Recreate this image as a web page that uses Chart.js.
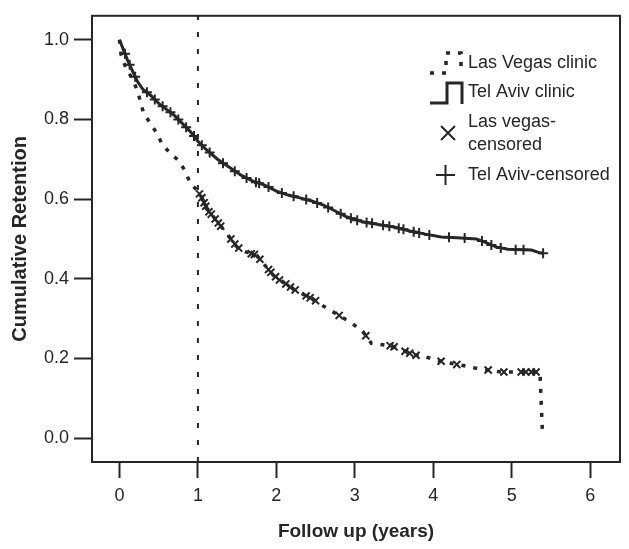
<!DOCTYPE html>
<html>
<head>
<meta charset="utf-8">
<script src="https://cdn.jsdelivr.net/npm/chart.js@4.4.1/dist/chart.umd.min.js"></script>
<style>
  html, body { margin: 0; padding: 0; background: #fff; }
</style>
</head>
<body>
<canvas id="chart" width="629" height="549"></canvas>
<script>
// Kaplan-Meier retention curves
const lvTimes = [0, 0.02, 0.08, 0.17, 0.23, 0.27, 0.31, 0.40, 0.48, 0.55, 0.65, 0.75, 0.84, 0.90, 1.00, 1.06, 1.12, 1.20, 1.30, 1.40, 1.50, 1.60, 1.75, 1.85, 1.96, 2.10, 2.21, 2.35, 2.46, 2.61, 2.78, 2.95, 3.10, 3.21, 3.44, 3.60, 3.73, 3.90, 4.07, 4.28, 4.53, 4.86, 5.36, 5.39];
const lvRetention = [1.00, 0.963, 0.93, 0.90, 0.871, 0.843, 0.814, 0.789, 0.764, 0.735, 0.715, 0.697, 0.67, 0.64, 0.62, 0.60, 0.573, 0.555, 0.53, 0.505, 0.479, 0.468, 0.459, 0.435, 0.409, 0.39, 0.375, 0.36, 0.35, 0.33, 0.31, 0.29, 0.268, 0.238, 0.232, 0.222, 0.21, 0.204, 0.194, 0.186, 0.176, 0.166, 0.166, 0.02];

const taTimes = [0, 0.05, 0.10, 0.17, 0.23, 0.30, 0.40, 0.50, 0.60, 0.70, 0.80, 0.90, 1.00, 1.10, 1.25, 1.40, 1.55, 1.70, 1.85, 2.00, 2.15, 2.30, 2.45, 2.60, 2.75, 2.90, 3.10, 3.30, 3.50, 3.70, 3.90, 4.10, 4.30, 4.55, 4.68, 4.80, 4.95, 5.25, 5.36, 5.40];
const taRetention = [1.00, 0.975, 0.95, 0.92, 0.895, 0.875, 0.86, 0.84, 0.825, 0.81, 0.79, 0.77, 0.745, 0.725, 0.70, 0.68, 0.66, 0.645, 0.635, 0.62, 0.61, 0.603, 0.595, 0.585, 0.57, 0.555, 0.543, 0.536, 0.53, 0.52, 0.512, 0.505, 0.503, 0.50, 0.49, 0.48, 0.474, 0.472, 0.465, 0.464];

// censored observations
const lvCensorTimes = [1.02, 1.05, 1.08, 1.10, 1.14, 1.17, 1.22, 1.26, 1.29, 1.42, 1.47, 1.52, 1.68, 1.72, 1.79, 1.90, 1.93, 1.99, 2.04, 2.12, 2.18, 2.24, 2.38, 2.43, 2.50, 2.80, 3.14, 3.45, 3.50, 3.64, 3.70, 3.78, 4.10, 4.30, 4.70, 4.90, 5.12, 5.18, 5.25, 5.31];
const lvCensorValues = [0.613, 0.603, 0.591, 0.582, 0.568, 0.562, 0.55, 0.54, 0.532, 0.50, 0.487, 0.477, 0.463, 0.461, 0.449, 0.423, 0.416, 0.405, 0.397, 0.387, 0.379, 0.372, 0.357, 0.352, 0.345, 0.308, 0.257, 0.232, 0.229, 0.218, 0.213, 0.208, 0.193, 0.185, 0.171, 0.166, 0.166, 0.166, 0.166, 0.166];

const taCensorTimes = [0.07, 0.13, 0.20, 0.35, 0.45, 0.55, 0.65, 0.75, 0.85, 0.95, 1.05, 1.15, 1.32, 1.47, 1.62, 1.74, 1.78, 1.90, 2.07, 2.22, 2.38, 2.52, 2.66, 2.82, 2.95, 3.03, 3.15, 3.22, 3.36, 3.44, 3.56, 3.62, 3.75, 3.82, 3.95, 4.20, 4.40, 4.62, 4.74, 4.86, 5.05, 5.15, 5.40];
const taCensorValues = [0.965, 0.937, 0.907, 0.868, 0.85, 0.833, 0.818, 0.80, 0.78, 0.758, 0.735, 0.717, 0.69, 0.67, 0.653, 0.642, 0.64, 0.63, 0.615, 0.607, 0.599, 0.59, 0.579, 0.563, 0.552, 0.547, 0.541, 0.539, 0.534, 0.532, 0.527, 0.524, 0.518, 0.515, 0.51, 0.504, 0.502, 0.495, 0.485, 0.477, 0.473, 0.473, 0.464];

const xTicks = [0, 1, 2, 3, 4, 5, 6];
const yTicks = [0, 0.2, 0.4, 0.6, 0.8, 1.0];
const cutoffYear = 1;
const xRange = [-0.35, 6.38];
const yRange = [-0.06, 1.06];

const ink = '#262626';
const fontFamily = "'Liberation Sans', Arial, Helvetica, sans-serif";

const zip = (xs, ys) => xs.map((x, i) => ({ x: x, y: ys[i] }));

// box around the plot + legend sitting inside it
const framePlugin = {
  id: 'frame',
  afterDraw(chart) {
    const { ctx, chartArea: a } = chart;
    ctx.save();
    ctx.strokeStyle = ink;
    ctx.lineWidth = 2;
    ctx.strokeRect(a.left, a.top, a.right - a.left, a.bottom - a.top);

    ctx.fillStyle = ink;
    ctx.font = '18px ' + fontFamily;
    ctx.textBaseline = 'middle';
    ctx.textAlign = 'left';

    // Las Vegas: dotted step
    ctx.lineWidth = 3.5;
    ctx.setLineDash([4, 8]);
    ctx.beginPath();
    ctx.moveTo(430, 73); ctx.lineTo(446, 73); ctx.lineTo(446, 53);
    ctx.lineTo(461, 53); ctx.lineTo(461, 70);
    ctx.stroke();
    ctx.fillText('Las Vegas clinic', 468, 63);

    // Tel Aviv: solid step
    ctx.setLineDash([]);
    ctx.lineWidth = 3;
    ctx.beginPath();
    ctx.moveTo(430, 103); ctx.lineTo(447, 103); ctx.lineTo(447, 83);
    ctx.lineTo(462, 83); ctx.lineTo(462, 104);
    ctx.stroke();
    ctx.fillText('Tel Aviv clinic', 468, 92);

    // x mark
    ctx.lineWidth = 2;
    ctx.beginPath();
    ctx.moveTo(441, 126); ctx.lineTo(455, 140);
    ctx.moveTo(455, 126); ctx.lineTo(441, 140);
    ctx.stroke();
    ctx.fillText('Las vegas-', 468, 122);
    ctx.fillText('censored', 468, 145);

    // + mark
    ctx.beginPath();
    ctx.moveTo(436, 175); ctx.lineTo(455, 175);
    ctx.moveTo(445.5, 165); ctx.lineTo(445.5, 185);
    ctx.stroke();
    ctx.fillText('Tel Aviv-censored', 468, 175);
    ctx.restore();
  }
};

new Chart(document.getElementById('chart'), {
  type: 'line',
  data: {
    datasets: [
      {
        label: 'cutoff',
        data: [{ x: cutoffYear, y: yRange[0] }, { x: cutoffYear, y: yRange[1] }],
        borderColor: ink,
        borderWidth: 2,
        borderDash: [5, 12],
        pointRadius: 0,
      },
      {
        label: 'Las Vegas clinic',
        data: zip(lvTimes, lvRetention),
        borderColor: ink,
        borderWidth: 3.5,
        borderDash: [4, 8],
        pointRadius: 0,
      },
      {
        label: 'Tel Aviv clinic',
        data: zip(taTimes, taRetention),
        borderColor: ink,
        borderWidth: 3,
        pointRadius: 0,
      },
      {
        label: 'Las vegas-censored',
        data: zip(lvCensorTimes, lvCensorValues),
        showLine: false,
        pointStyle: 'crossRot',
        pointRadius: 5,
        pointBorderWidth: 2,
        pointBorderColor: ink,
      },
      {
        label: 'Tel Aviv-censored',
        data: zip(taCensorTimes, taCensorValues),
        showLine: false,
        pointStyle: 'cross',
        pointRadius: 5,
        pointBorderWidth: 2,
        pointBorderColor: ink,
      },
    ]
  },
  options: {
    responsive: false,
    animation: false,
    layout: { padding: { top: 10, right: 9, left: 0, bottom: 0 } },
    plugins: { legend: { display: false }, tooltip: { enabled: false } },
    scales: {
      x: {
        type: 'linear',
        min: xRange[0],
        max: xRange[1],
        afterBuildTicks: (scale) => { scale.ticks = xTicks.map(v => ({ value: v })); },
        afterFit: (scale) => { scale.height = 87; },
        grid: { drawOnChartArea: false, tickLength: 16, tickWidth: 2, tickColor: ink },
        border: { display: false },
        ticks: { color: ink, padding: 7, font: { size: 18, family: fontFamily }, callback: v => String(v) },
        title: {
          display: true,
          text: 'Follow up (years)',
          color: ink,
          font: { size: 19, weight: 'bold', family: fontFamily },
          padding: { top: 0, bottom: 6 },
        },
      },
      y: {
        min: yRange[0],
        max: yRange[1],
        afterBuildTicks: (scale) => { scale.ticks = yTicks.map(v => ({ value: v })); },
        afterFit: (scale) => { scale.width = 92; },
        grid: { drawOnChartArea: false, tickLength: 18, tickWidth: 2, tickColor: ink },
        border: { display: false },
        ticks: { color: ink, padding: 5, font: { size: 18, family: fontFamily }, callback: v => v.toFixed(1) },
        title: {
          display: true,
          text: 'Cumulative Retention',
          color: ink,
          font: { size: 20, weight: 'bold', family: fontFamily },
          padding: { top: 8, bottom: 0 },
        },
      },
    },
  },
  plugins: [framePlugin],
});
</script>
</body>
</html>
